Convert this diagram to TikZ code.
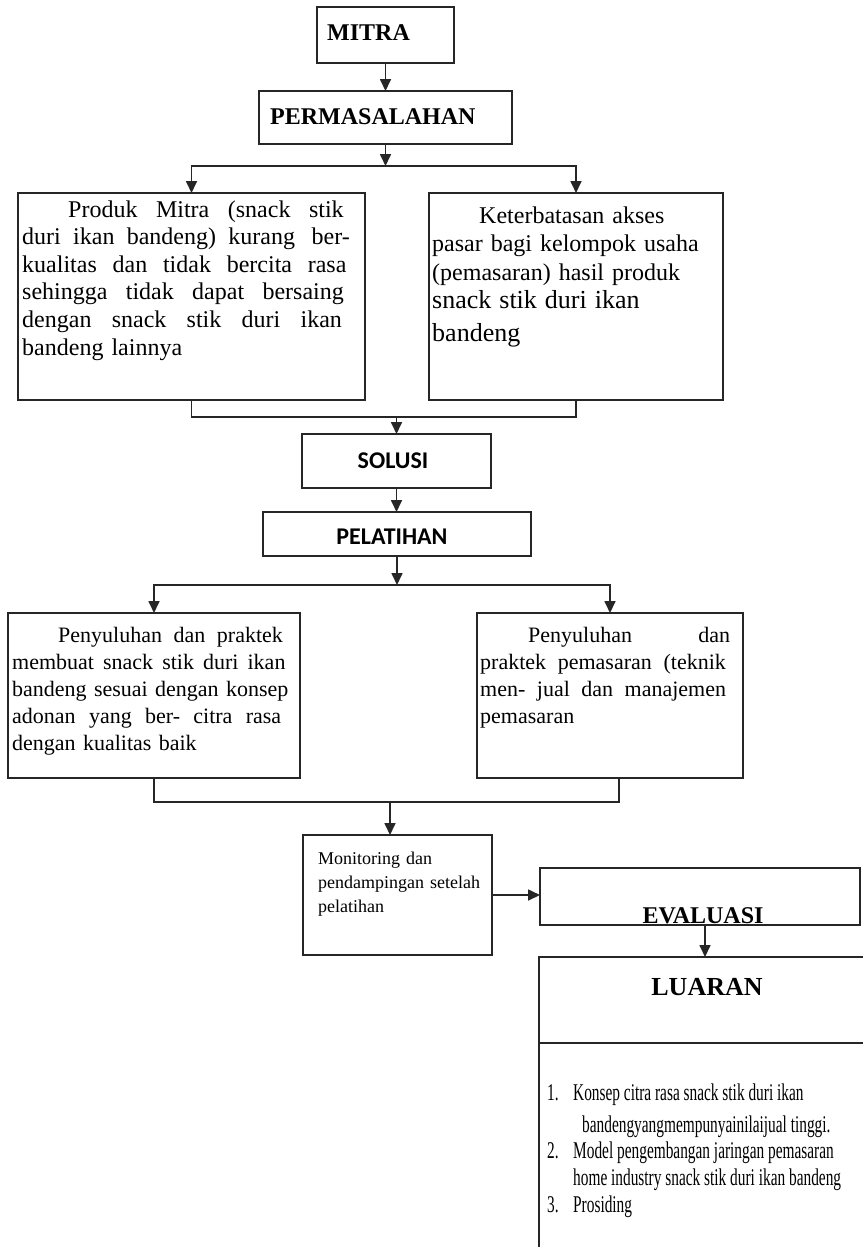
\documentclass[tikz,border=0pt]{standalone}
\usepackage{fontspec}
\usepackage{graphicx}
\setmainfont{Liberation Serif}
\newfontfamily\calib{Carlito}
\usetikzlibrary{arrows.meta}
\newcommand{\jw}{\hspace{0pt plus 1fil}}
\begin{document}
\begin{tikzpicture}[x=1pt,y=-1pt,
  box/.style={draw=black!85, line width=1.4pt, inner sep=0pt, outer sep=0pt, anchor=north west},
  arr/.style={draw=black!85, line width=1.7pt, -{Triangle[length=12pt,width=11pt]}},
  ln/.style={draw=black!85, line width=1.4pt},
  txt/.style={inner sep=0pt, anchor=base west, align=left},
  head/.style={inner sep=0pt, font=\fontsize{24}{28}\selectfont\bfseries},
  sanshead/.style={inner sep=0pt, anchor=base, font=\fontsize{24}{28}\selectfont\calib\bfseries},
  list/.style={inner sep=0pt, anchor=base west, font=\fontsize{24}{28}\selectfont}
]
\useasboundingbox[fill=white] (0,0) rectangle (862,1247);

% boxes
\node[box, minimum width=137pt, minimum height=56pt] (mitra) at (317,7) {};
\node[box, minimum width=253pt, minimum height=53pt] (perm) at (259,91) {};
\node[box, minimum width=347pt, minimum height=207pt] (p1) at (18,193) {};
\node[box, minimum width=294pt, minimum height=207pt] (p2) at (429,193) {};
\node[box, minimum width=189pt, minimum height=54pt] (sol) at (302,434) {};
\node[box, minimum width=268pt, minimum height=44pt] (pel) at (263,512) {};
\node[box, minimum width=292pt, minimum height=165pt] (p3) at (8,613) {};
\node[box, minimum width=266pt, minimum height=165pt] (p4) at (477,613) {};
\node[box, minimum width=189pt, minimum height=120pt] (mon) at (303,835) {};
\node[box, minimum width=320pt, minimum height=57pt] (eval) at (540,868) {};
\node[box, minimum width=340pt, minimum height=320pt] (luaran) at (539,957) {};

% header texts
\node[head, anchor=base west] (tmitra) at (327,41) {MITRA};
\node[head, anchor=base west] (tperm) at (270,124) {PERMASALAHAN};
\node[sanshead] (tsol) at (393,468) {SOLUSI};
\node[sanshead] (tpel) at (392,544) {PELATIHAN};
\node[head, anchor=base] (teval) at (703,923) {EVALUASI};
\node[head, anchor=base, font=\fontsize{26}{30}\selectfont\bfseries] (tlua) at (707,995) {LUARAN};

% box 1 text
\node[txt, text width=332pt, font=\fontsize{24}{27.6}\selectfont] (t1) at (22,217) {%
\makebox[332pt][l]{\hspace*{46pt}Produk\jw{} Mitra\jw{} (snack\jw{} stik}\\
\makebox[332pt][l]{duri\jw{} ikan\jw{} bandeng)\jw{} kurang\jw{}\jw{} ber-}\\
\makebox[332pt][l]{kualitas\jw{} dan\jw{} tidak\jw{} bercita\jw{} rasa}\\
\makebox[332pt][l]{sehingga\jw{} tidak\jw{} dapat\jw{} bersaing}\\
\makebox[332pt][l]{dengan\jw{} snack\jw{} stik\jw{} duri\jw{} ikan}\\
bandeng lainnya};

% box 2 text
\node[txt, text width=290pt, font=\fontsize{24}{28.5}\selectfont] (t2) at (432,223) {%
\hspace*{47pt}Keterbatasan akses\\
pasar bagi kelompok usaha\\
(pemasaran) hasil produk\\
{\fontsize{26}{28.5}\selectfont snack stik duri ikan}\\[4pt]
{\fontsize{26}{28.5}\selectfont bandeng}};

% box 3 text
\node[txt, text width=275pt, font=\fontsize{22}{27}\selectfont] (t3) at (12,642) {%
\makebox[275pt][l]{\hspace*{46pt}Penyuluhan\jw{} dan\jw{} praktek}\\
\makebox[275pt][l]{membuat\jw{} snack\jw{} stik\jw{} duri\jw{} ikan}\\
\makebox[275pt][l]{bandeng\jw{} sesuai\jw{} dengan\jw{} konsep}\\
\makebox[275pt][l]{adonan\jw{} yang\jw{} ber-\jw{} citra\jw{} rasa}\\
dengan kualitas baik};

% box 4 text
\node[txt, text width=250pt, font=\fontsize{22}{27}\selectfont] (t4) at (480,642) {%
\makebox[250pt][l]{\hspace*{48pt}Penyuluhan\hfill dan}\\
\makebox[250pt][l]{praktek\jw{} pemasaran\jw{} (teknik}\\
\makebox[250pt][l]{men-\jw{} jual\jw{} dan\jw{} manajemen}\\
pemasaran};

% monitoring text
\node[txt, text width=180pt, font=\fontsize{18}{24}\selectfont] (tmon) at (318,864) {%
Monitoring dan\\
pendampingan setelah\\
pelatihan};

% luaran list
\node[list] (n1) at (547,1100) {\scalebox{0.64}[1]{1.}};
\node[list] (l1) at (573,1100) {\scalebox{0.64}[1]{Konsep citra rasa snack stik duri ikan}};
\node[list] (l1b) at (582,1132) {\scalebox{0.64}[1]{bandengyangmempunyainilaijual tinggi.}};
\node[list] (n2) at (547,1158) {\scalebox{0.64}[1]{2.}};
\node[list] (l2) at (573,1158) {\scalebox{0.64}[1]{Model pengembangan jaringan pemasaran}};
\node[list] (l2b) at (573,1185) {\scalebox{0.64}[1]{home industry snack stik duri ikan bandeng}};
\node[list] (n3) at (547,1212) {\scalebox{0.64}[1]{3.}};
\node[list] (l3) at (573,1212) {\scalebox{0.64}[1]{Prosiding}};

% connectors
\coordinate (s1) at (385.5,166);
\coordinate (j1) at (396.5,417);
\coordinate (s2) at (397,585);
\coordinate (j2) at (390,802);

\draw[arr] (mitra.south) -- (perm.north);
\draw[arr] (perm.south) -- (s1);
\draw[arr] (s1) -| (p1.north);
\draw[arr] (s1) -| (p2.north);
\draw[ln] (p1.south) |- (j1) -| (p2.south);
\draw[arr] (j1) -- (sol.north);
\draw[arr] (sol.south) -- (sol.south |- pel.north);
\draw[arr] (pel.south) -- (s2);
\draw[arr] (s2) -| (p3.north);
\draw[arr] (s2) -| (p4.north);
\draw[ln] (p3.south) |- (j2) -| ([xshift=9pt]p4.south);
\draw[arr] (j2) -- (j2 |- mon.north);
\draw[arr] (mon.east) -- (mon.east -| eval.west);
\draw[arr] ([xshift=5pt]eval.south) -- ([xshift=5pt]eval.south |- luaran.north);

% luaran header separator
\path (luaran.north west) ++(0,86) coordinate (sepL);
\draw[draw=black!85, line width=2.6pt] (sepL) -- (sepL -| luaran.east);
\end{tikzpicture}
\end{document}
